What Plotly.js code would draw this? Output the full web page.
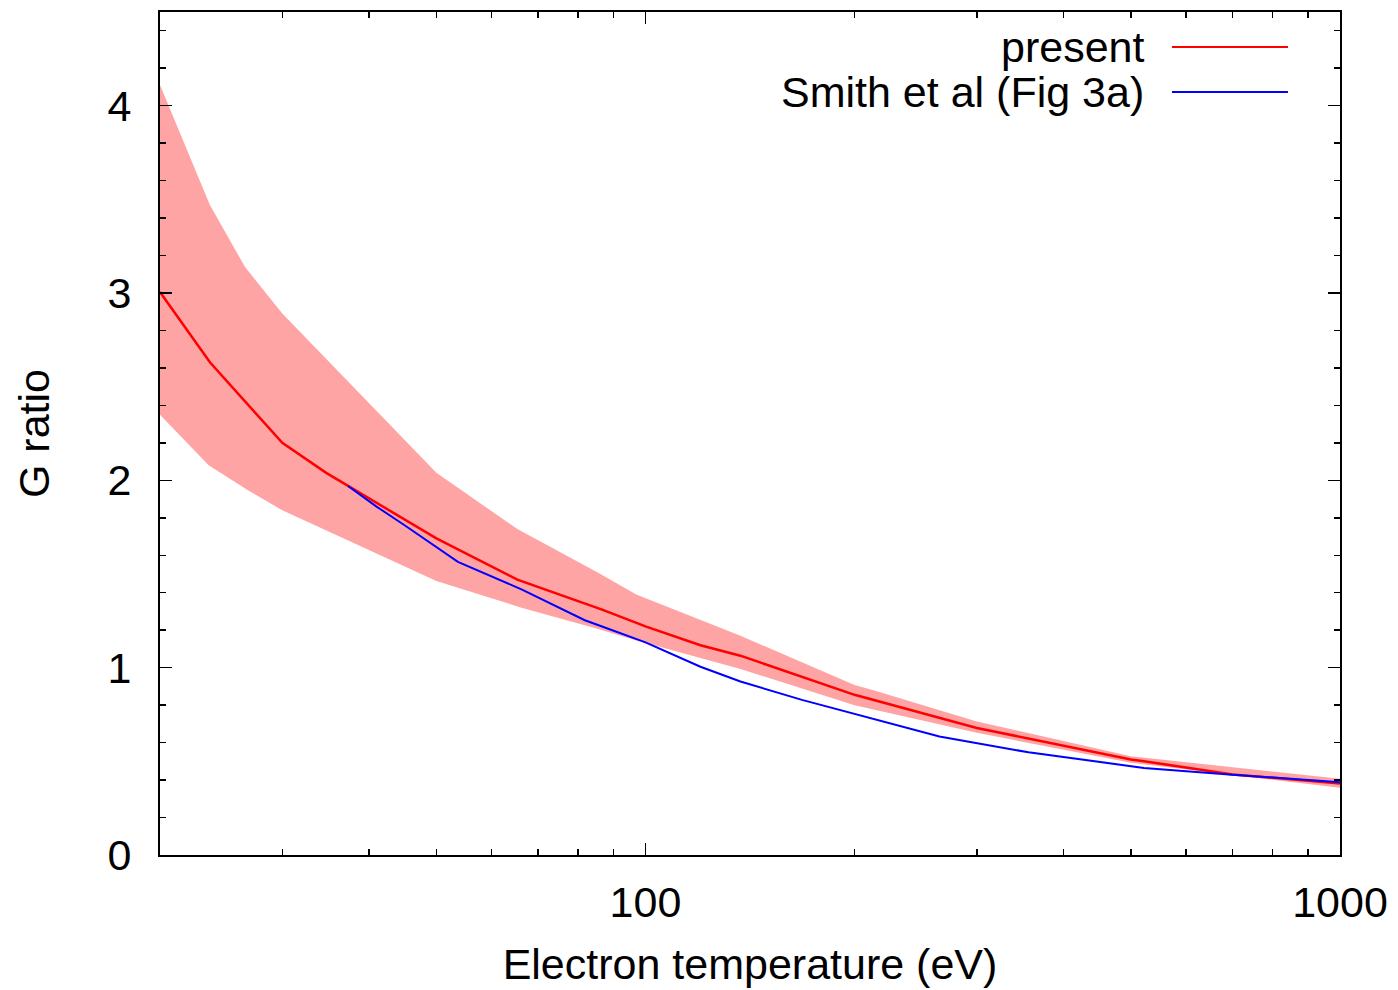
<!DOCTYPE html>
<html>
<head>
<meta charset="utf-8">
<script src="https://cdn.plot.ly/plotly-3.0.1.min.js"></script>
<style>html,body{margin:0;padding:0;background:#fff;}#chart{width:1398px;height:990px;}</style>
</head>
<body>
<div id="chart"></div>
<script>
// Present calculation (red line)
var presentT = [20, 23.6, 30, 34.7, 50, 65.4, 86.6, 100, 120, 137, 200, 213, 300, 500, 522, 700, 1000];
var presentG = [3.005, 2.63, 2.2, 2.04, 1.69, 1.47, 1.31, 1.22, 1.12, 1.064, 0.855, 0.828, 0.678, 0.51, 0.501, 0.43, 0.382];

// Uncertainty band (upper / lower edges)
var upperT = [20, 23.6, 26.5, 30, 50, 65.4, 85.5, 97, 137, 200, 213, 300, 500, 1000];
var upperG = [4.11, 3.47, 3.14, 2.89, 2.04, 1.74, 1.507, 1.39, 1.17, 0.908, 0.88, 0.713, 0.527, 0.407];
var lowerT = [20, 23.5, 26.7, 30, 34.7, 50, 66.3, 85.5, 96, 137, 200, 300, 500, 1000];
var lowerG = [2.35, 2.08, 1.95, 1.84, 1.73, 1.463, 1.32, 1.206, 1.15, 0.993, 0.80, 0.652, 0.492, 0.359];

// Smith et al (Fig 3a) (blue line)
var smithT = [37.3, 41, 45, 53.7, 66.3, 81.8, 86.6, 100, 120, 137, 168, 213, 265, 356, 522, 692, 1000];
var smithG = [1.97, 1.86, 1.76, 1.565, 1.418, 1.253, 1.22, 1.135, 1.005, 0.926, 0.828, 0.725, 0.633, 0.548, 0.465, 0.43, 0.389];

// Axis ticks
var xMajor = [100, 1000];
var xMajorText = ['100', '1000'];
var xMinor = [20, 30, 40, 50, 60, 70, 80, 90, 200, 300, 400, 500, 600, 700, 800, 900];
var yMajor = [0, 1, 2, 3, 4];
var yMajorText = ['0', '1', '2', '3', '4'];

var legendNames = ['present', 'Smith et al (Fig 3a)'];
var legendColors = ['#ff0000', '#0000ff'];

var FONT = 'Liberation Sans, Arial, sans-serif';
var FS = 43;

var traces = [
  {
    x: upperT.concat(lowerT.slice().reverse()),
    y: upperG.concat(lowerG.slice().reverse()),
    type: 'scatter', mode: 'lines', fill: 'toself',
    fillcolor: 'rgb(255,164,164)', line: {width: 0, color: 'rgba(0,0,0,0)'},
    showlegend: false, hoverinfo: 'skip'
  },
  {
    x: presentT, y: presentG, type: 'scatter', mode: 'lines',
    name: legendNames[0], line: {color: legendColors[0], width: 2.5}, showlegend: false
  },
  {
    x: smithT, y: smithG, type: 'scatter', mode: 'lines',
    name: legendNames[1], line: {color: legendColors[1], width: 2}, showlegend: false
  }
];

var legendY = [0.9585, 0.905];
var annotations = legendNames.map(function (n, i) {
  return {xref: 'paper', yref: 'paper', x: 0.836, y: legendY[i], xanchor: 'right', yanchor: 'middle',
    text: n, showarrow: false, font: {family: FONT, size: FS, color: '#000'}};
});
var shapes = legendNames.map(function (n, i) {
  return {type: 'line', xref: 'paper', yref: 'paper', x0: 0.8576, x1: 0.9559, y0: legendY[i], y1: legendY[i],
    line: {color: legendColors[i], width: 2}};
});

var layout = {
  width: 1398, height: 990,
  margin: {l: 160, r: 58, t: 12, b: 135},
  paper_bgcolor: '#fff', plot_bgcolor: '#fff',
  showlegend: false,
  font: {family: FONT, size: FS, color: '#000'},
  xaxis: {
    type: 'log', range: [Math.log10(20), 3],
    tickmode: 'array', tickvals: xMajor, ticktext: xMajorText,
    ticks: 'inside', ticklen: 12, tickwidth: 1.5, tickcolor: '#000',
    minor: {tickmode: 'array', tickvals: xMinor, ticks: 'inside', ticklen: 6, tickwidth: 1.5, tickcolor: '#000', showgrid: false},
    showline: true, linecolor: '#000', linewidth: 2, mirror: 'ticks',
    showgrid: false, zeroline: false,
    tickfont: {family: FONT, size: FS, color: '#000'},
    ticklabelstandoff: 8,
    title: {text: 'Electron temperature (eV)', font: {family: FONT, size: FS, color: '#000'}, standoff: 24}
  },
  yaxis: {
    range: [0, 4.5],
    tickmode: 'array', tickvals: yMajor, ticktext: yMajorText,
    ticks: 'inside', ticklen: 12, tickwidth: 1.5, tickcolor: '#000',
    minor: {dtick: 0.2, tick0: 0, ticks: 'inside', ticklen: 6, tickwidth: 1.5, tickcolor: '#000', showgrid: false},
    showline: true, linecolor: '#000', linewidth: 2, mirror: 'ticks',
    showgrid: false, zeroline: false,
    tickfont: {family: FONT, size: FS, color: '#000'},
    ticklabelstandoff: 18,
    title: {text: 'G ratio', font: {family: FONT, size: FS, color: '#000'}, standoff: 44}
  },
  annotations: annotations,
  shapes: shapes
};

Plotly.newPlot('chart', traces, layout, {displayModeBar: false, staticPlot: true});
</script>
</body>
</html>
